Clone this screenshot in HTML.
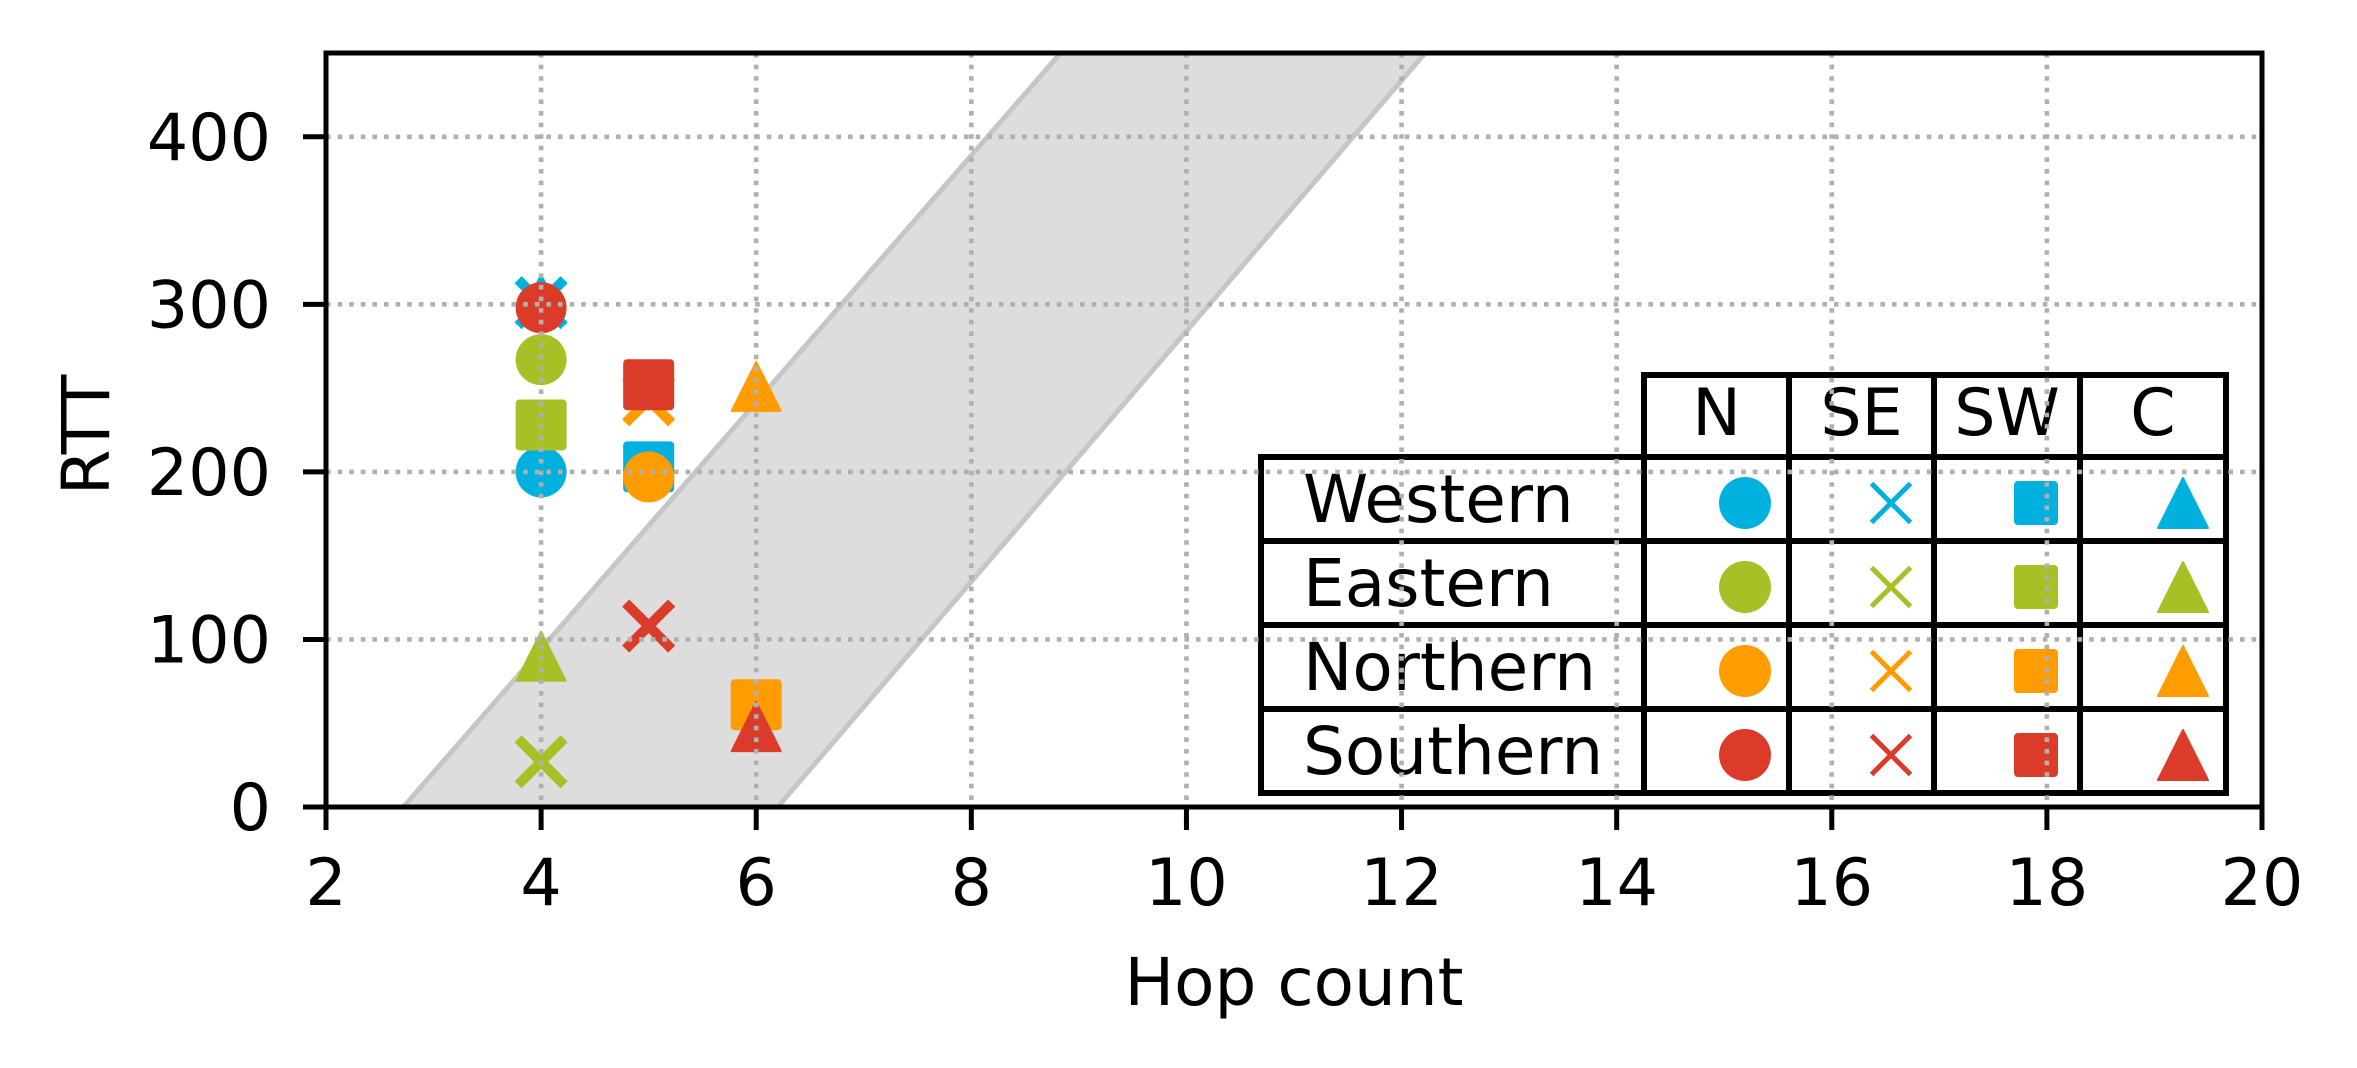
<!DOCTYPE html>
<html><head><meta charset="utf-8"><style>
html,body{margin:0;padding:0;background:#fff;}
svg{display:block;font-family:"DejaVu Sans","Liberation Sans",sans-serif;}
</style></head><body>
<svg id="chart" width="2357" height="1068" viewBox="0 0 2357 1068" xmlns="http://www.w3.org/2000/svg">
<g id="band"></g>
<g id="points"></g>
<g id="legend"></g>
<g id="grid"></g>
<g id="axes"></g>
</svg>
<script>
const xTicks = [2,4,6,8,10,12,14,16,18,20];
const yTicks = [0,100,200,300,400];
const regions = ['Western','Eastern','Northern','Southern'];
const groups = ['N','SE','SW','C'];
const colors = ['#00b1e0','#a8c026','#ff9c00','#da3c29'];
const markers = ['circle','x','square','triangle'];
// hop counts per region for [N, SE, SW, C]
const hopWestern = [4,4,5,4];
const hopEastern = [4,4,4,4];
const hopNorthern = [5,5,6,6];
const hopSouthern = [4,5,5,6];
// RTT values per region for [N, SE, SW, C]
const rttWestern = [200,301,203,303];
const rttEastern = [267,27,228,90];
const rttNorthern = [197,243,61,251];
const rttSouthern = [298,108,252,48];
// band edges: [x at y=0, x at y=450]
const bandLeft = [2.72,8.83];
const bandRight = [6.2,12.22];

const NS='http://www.w3.org/2000/svg';
const L=326,R=2262,T=53,B=807;
const xMin=2,xMax=20,yMin=0,yMax=450;
const sx=v=>L+(v-xMin)/(xMax-xMin)*(R-L);
const sy=v=>B-(v-yMin)/(yMax-yMin)*(B-T);
function mk(tag,attrs,parent){const e=document.createElementNS(NS,tag);for(const k in attrs)e.setAttribute(k,attrs[k]);parent.appendChild(e);return e;}

const band=document.getElementById('band');
const clip=mk('clipPath',{id:'plotclip'},band);
mk('rect',{x:L,y:T,width:R-L,height:B-T},clip);
const bg=mk('g',{'clip-path':'url(#plotclip)'},band);
const poly=mk('polygon',{points:`${sx(bandLeft[0])},${sy(0)} ${sx(bandLeft[1])},${sy(450)} ${sx(bandRight[1])},${sy(450)} ${sx(bandRight[0])},${sy(0)}`,fill:'#dddddd',stroke:'#c6c6c6','stroke-width':5},bg);



function drawMarker(parent,type,cx,cy,size,color,xw){
  const h=size/2;let e;
  if(type==='circle'){e=mk('ellipse',{cx:cx,cy:cy,rx:h,ry:h,fill:color},parent);}
  else if(type==='square'){e=mk('rect',{x:cx-h+1,y:cy-h+1,width:size-2,height:size-2,rx:3,fill:color,stroke:color,'stroke-width':2,'stroke-linejoin':'round'},parent);}
  else if(type==='triangle'){e=mk('polygon',{points:`${cx},${cy-h+1} ${cx-h+1},${cy+h-1} ${cx+h-1},${cy+h-1}`,fill:color,stroke:color,'stroke-width':2,'stroke-linejoin':'round'},parent);}
  else {e=mk('path',{d:`M${cx-h},${cy-h}L${cx+h},${cy+h}M${cx-h},${cy+h}L${cx+h},${cy-h}`,stroke:color,'stroke-width':xw,fill:'none'},parent);}
  return e;
}
const pts=document.getElementById('points');
const hops=[hopWestern,hopEastern,hopNorthern,hopSouthern];
const rtts=[rttWestern,rttEastern,rttNorthern,rttSouthern];
regions.forEach((r,ri)=>{
  groups.forEach((g,gi)=>{
    const e=drawMarker(pts,markers[gi],sx(hops[ri][gi]),sy(rtts[ri][gi]),markers[gi]==='x'?46:51,colors[ri],10);
    
    
  });
});

const lg=document.getElementById('legend');
const colX=[1261,1644,1789,1934,2080,2226];
const rowY=[375,457,541,625,709,793];
const mkX=[1745,1891,2036,2183];
const hdr=mk('rect',{x:colX[1],y:rowY[0],width:colX[5]-colX[1],height:rowY[1]-rowY[0],fill:'#fff',stroke:'#000','stroke-width':6},lg);


const body=mk('rect',{x:colX[0],y:rowY[1],width:colX[5]-colX[0],height:rowY[5]-rowY[1],fill:'#fff',stroke:'#000','stroke-width':6},lg);


for(let i=1;i<5;i++){mk('line',{x1:colX[i],y1:rowY[0],x2:colX[i],y2:rowY[5],stroke:'#000','stroke-width':6},lg);}
for(let j=2;j<5;j++){mk('line',{x1:colX[0],y1:rowY[j],x2:colX[5],y2:rowY[j],stroke:'#000','stroke-width':6},lg);}
groups.forEach((g,gi)=>{
  const t=mk('text',{x:(colX[gi+1]+colX[gi+2])/2,y:rowY[1]-22,'font-size':65,'text-anchor':'middle',fill:'#000'},lg);
  t.textContent=g;
  
  
});
regions.forEach((r,ri)=>{
  const cy=(rowY[ri+1]+rowY[ri+2])/2;
  const t=mk('text',{x:1303,y:cy+23,'font-size':66,fill:'#000'},lg);
  t.textContent=r;
  
  
  groups.forEach((g,gi)=>{
    const sz=markers[gi]==='x'?39:(markers[gi]==='square'?44:52);
    const e=drawMarker(lg,markers[gi],mkX[gi],cy+4,sz,colors[ri],5);
    
    
  });
});

const grid=document.getElementById('grid');
xTicks.forEach(v=>{const l=mk('line',{x1:sx(v),y1:T,x2:sx(v),y2:B,stroke:'#b0b0b0','stroke-width':4.6,'stroke-dasharray':'4.6 7'},grid);
  });
yTicks.forEach(v=>{const l=mk('line',{x1:L,y1:sy(v),x2:R,y2:sy(v),stroke:'#b0b0b0','stroke-width':4.6,'stroke-dasharray':'4.6 7'},grid);
  });

const ax=document.getElementById('axes');
const fr=mk('rect',{x:L,y:T,width:R-L,height:B-T,fill:'none',stroke:'#000','stroke-width':5},ax);


xTicks.forEach(v=>{
  mk('line',{x1:sx(v),y1:B,x2:sx(v),y2:B+23,stroke:'#000','stroke-width':5},ax);
  const t=mk('text',{x:sx(v),y:905,'font-size':65,'text-anchor':'middle',fill:'#000'},ax);
  t.textContent=v;
  
  
});
yTicks.forEach(v=>{
  mk('line',{x1:L-23,y1:sy(v),x2:L,y2:sy(v),stroke:'#000','stroke-width':5},ax);
  const t=mk('text',{x:271,y:sy(v)+23,'font-size':65,'text-anchor':'end',fill:'#000'},ax);
  t.textContent=v;
  
  
});
const xt=mk('text',{x:(L+R)/2,y:1005,'font-size':66,'text-anchor':'middle',fill:'#000'},ax);
xt.textContent='Hop count';


const yt=mk('text',{x:0,y:0,'font-size':66,'text-anchor':'middle',fill:'#000',transform:'translate(109,435) rotate(-90)'},ax);
yt.textContent='RTT';


</script>
</body></html>
